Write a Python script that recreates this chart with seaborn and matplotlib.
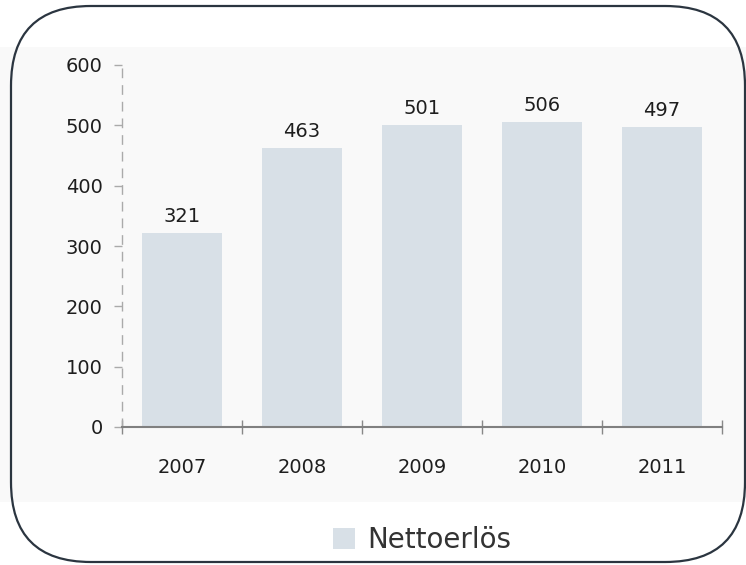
import matplotlib
matplotlib.use("Agg")
import matplotlib.pyplot as plt
import seaborn as sns
import pandas as pd
from matplotlib.patches import FancyBboxPatch, Rectangle

years = ["2007", "2008", "2009", "2010", "2011"]
values = [321, 463, 501, 506, 497]
series_name = "Nettoerlös"
yticks = [0, 100, 200, 300, 400, 500, 600]

sns.set_theme(style="white")
plt.rcParams['font.family'] = ['DejaVu Sans']

df = pd.DataFrame({"År": years, "Värde": values, "Serie": series_name})

W, H = 746, 565
fig = plt.figure(figsize=(W / 100, H / 100), dpi=100)
fig.patch.set_facecolor("white")

# light panel behind chart
panel = Rectangle((0, 1 - 502 / H), 1, (502 - 47) / H,
                  transform=fig.transFigure, facecolor="#f9f9f9", edgecolor="none", zorder=-10)
fig.patches.append(panel)

ax = fig.add_axes([122 / W, 1 - 427 / H, (722 - 122) / W, (427 - 65) / H])
ax.set_facecolor("none")
ax.set_zorder(2)

bar_color = "#d8e0e7"
sns.barplot(data=df, x="År", y="Värde", hue="Serie", palette=[bar_color],
            width=0.67, ax=ax, saturation=1, legend=True, linewidth=0)

ax.set_ylim(0, 600)
ax.set_xlim(-0.5, len(years) - 0.5)
ax.set_yticks(yticks)
ax.set_yticklabels([str(v) for v in yticks], fontsize=14, color="#1e1e1e")
ax.set_xlabel("")
ax.set_ylabel("")
ax.tick_params(axis="x", which="major", length=0, pad=22, labelsize=14, labelcolor="#1e1e1e")
ax.set_xticks([i - 0.5 for i in range(len(years) + 1)], minor=True)
ax.tick_params(axis="x", which="minor", bottom=True, length=10, direction="inout",
               color="#888888", width=1)
ax.tick_params(axis="y", which="major", length=6, direction="out", color="#aaaaaa",
               width=1, pad=8, left=True)

for s in ["top", "right"]:
    ax.spines[s].set_visible(False)
ax.spines["left"].set_linestyle((0, (6, 6)))
ax.spines["left"].set_color("#aaaaaa")
ax.spines["left"].set_linewidth(1)
ax.spines["bottom"].set_color("#808080")
ax.spines["bottom"].set_linewidth(1.5)

for c in ax.containers:
    ax.bar_label(c, fmt="%d", padding=5, fontsize=14, color="#1e1e1e")

leg = ax.legend(loc="upper center", bbox_to_anchor=(0.5, -0.205), frameon=False,
                fontsize=20, handlelength=0.8, handleheight=0.8, handletextpad=0.45)
for t in leg.get_texts():
    t.set_color("#333333")

border = FancyBboxPatch((11 / W, 3 / H), (745 - 11) / W, (559 - 3) / H,
                        boxstyle="round,pad=0,rounding_size=0.107",
                        transform=fig.transFigure, fill=False,
                        edgecolor="#2b3540", linewidth=1.6,
                        mutation_aspect=W / H, zorder=5)
fig.patches.append(border)

fig.savefig("out.png", dpi=100)
